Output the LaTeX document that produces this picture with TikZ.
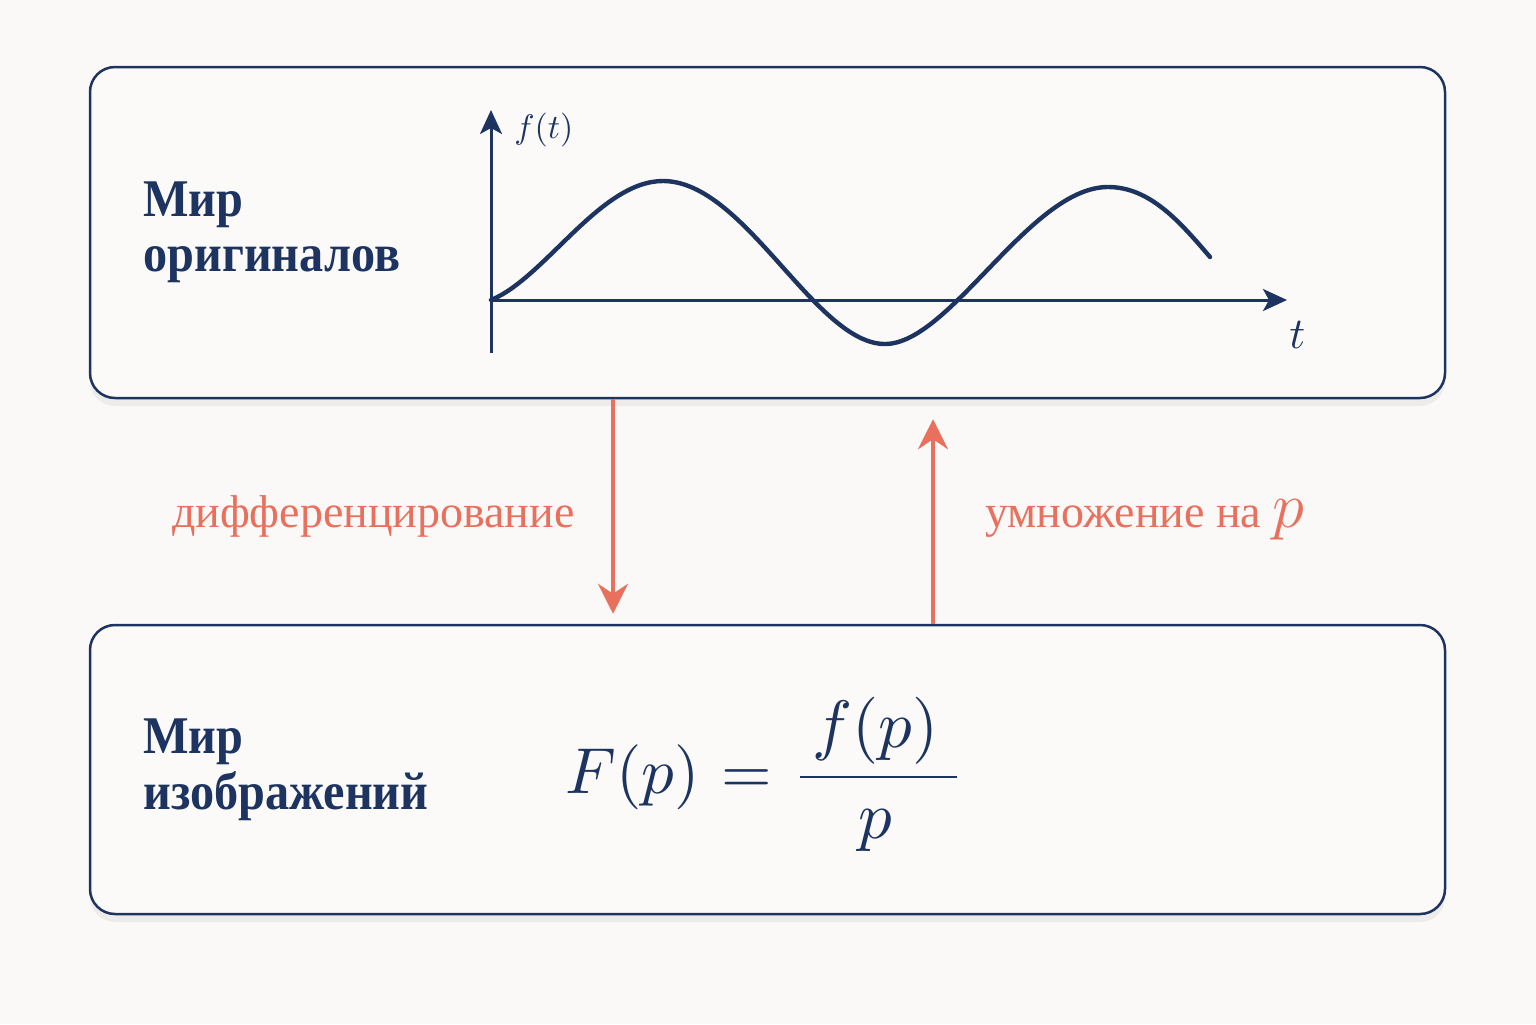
\documentclass[tikz,border=0pt]{standalone}
\usepackage{graphicx}
\usepackage{fontspec}
\setmainfont{Liberation Serif}
\usetikzlibrary{arrows.meta,shadows}
\definecolor{navy}{HTML}{1D3461}
\definecolor{coral}{HTML}{E8705C}
\definecolor{bgc}{HTML}{FAF9F7}
\definecolor{panelc}{HTML}{FBFAF8}
\newcommand{\scmath}[2]{\scalebox{#1}{$#2$}}
\newcommand{\narrow}[1]{\scalebox{0.91}[1]{#1}}
\begin{document}
\begin{tikzpicture}[x=0.5pt,y=-0.5pt,
  panel/.style={draw=navy,line width=1.25pt,rounded corners=12.5pt,fill=panelc,
    drop shadow={opacity=0.10,shadow xshift=0pt,shadow yshift=-4pt},inner sep=0pt},
  title/.style={anchor=base west,inner sep=0pt,text=navy,font=\fontsize{26.5}{30}\selectfont\bfseries},
  lab/.style={inner sep=0pt,text=coral,font=\fontsize{23}{26}\selectfont},
  axis/.style={draw=navy,line width=1.5pt,-{Stealth[length=12pt,width=11pt,inset=3pt]}},
  conn/.style={draw=coral,line width=1.75pt,-{Stealth[length=15pt,width=15pt,inset=5pt]}},
  mth/.style={anchor=base west,inner sep=0pt,text=navy}]
\fill[bgc] (0,0) rectangle (1536,1024);
\useasboundingbox (0,0) rectangle (1536,1024);
% panels
\node[panel,minimum width=677.5pt,minimum height=165.5pt] (top) at (767.5,232.5) {};
\node[panel,minimum width=677.5pt,minimum height=144.5pt] (bot) at (767.5,769.5) {};
% titles
\node[title] (t1) at (143,216) {\narrow{Мир}};
\node[title] (t2) at (143,271) {\narrow{оригиналов}};
\node[title] (b1) at (143,753) {\narrow{Мир}};
\node[title] (b2) at (143,809) {\narrow{изображений}};
% axes
\coordinate (ybot) at (491,353);
\coordinate (ytop) at (491,110);
\coordinate (O) at (491,300);
\coordinate (xend) at (1287,300);
\draw[axis] (ybot) -- (ytop);
\draw[axis] (O) -- (xend);
\node[mth] (ft) at (514,138) {\scmath{1.7}{f(t)}};
\node[mth] (tl) at (1289,348) {\scmath{2.2}{t}};
% curve
\coordinate (p1) at (663,181);
\coordinate (p2) at (885,344);
\coordinate (p3) at (1108,187);
\coordinate (p4) at (1210,257);
\draw[navy,line width=2.2pt,line cap=round]
  (O) .. controls (545,278) and (600,181) .. (p1)
      .. controls (745,181) and (815,344) .. (p2)
      .. controls (950,344) and (1030,187) .. (p3)
      .. controls (1150,187) and (1180,222) .. (p4);
% connectors
\coordinate (dx) at (613,0);
\coordinate (ux) at (933,0);
\draw[conn,shorten >=5pt] (top.south -| dx) -- (bot.north -| dx);
\draw[conn,shorten >=10pt] (bot.north -| ux) -- (top.south -| ux);
\node[lab,anchor=base east] (l1) at (575,527) {дифференцирование};
\node[lab,anchor=base west] (l2) at (985,527) {умножение на \scmath{1.3}{p}};
% formula
\node[mth] (F) at (565,793) {\scmath{3.25}{F(p)}};
\node[mth] (eq) at (721,793) {\scmath{3.25}{=}};
\node[mth] (num) at (812,747) {\scmath{3.35}{f(p)}};
\node[mth] (den) at (858,838) {\scmath{3.35}{p}};
\coordinate (barl) at (800,777);
\coordinate (barr) at (957,777);
\draw[navy,line width=1.4pt] (barl) -- (barr);
\end{tikzpicture}
\end{document}
